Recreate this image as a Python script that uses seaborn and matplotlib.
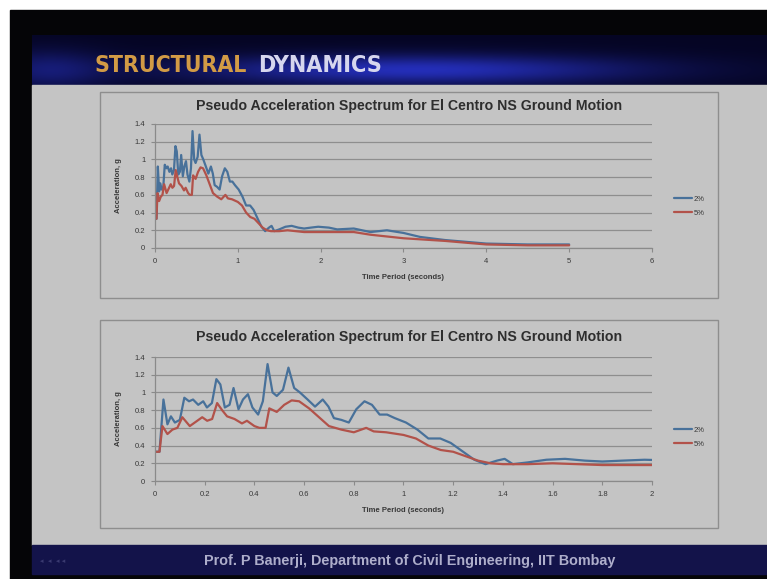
import numpy as np
import pandas as pd
import matplotlib
matplotlib.use("Agg")
import matplotlib.pyplot as plt
from matplotlib import font_manager
from matplotlib.patches import Rectangle
from matplotlib.ticker import FuncFormatter
import seaborn as sns

# pseudo acceleration (g) vs time period (s)
period_2pct = [0.00, 0.018, 0.034, 0.050, 0.064, 0.080, 0.100, 0.118, 0.137, 0.153,
               0.174, 0.194, 0.209, 0.229, 0.247, 0.263, 0.281, 0.300, 0.316, 0.336,
               0.354, 0.374, 0.392, 0.415, 0.434, 0.453, 0.473, 0.490, 0.515, 0.537,
               0.560, 0.583, 0.614, 0.644, 0.675, 0.698, 0.720, 0.750, 0.780, 0.810,
               0.843, 0.873, 0.904, 0.934, 0.965, 1.010, 1.056, 1.100, 1.148, 1.190,
               1.240, 1.285, 1.330, 1.376, 1.407, 1.440, 1.500, 1.575, 1.650, 1.730,
               1.800, 1.880, 1.970, 2.100, 2.200, 2.400, 2.600, 2.800, 3.000, 3.200,
               3.500, 4.000, 4.500, 5.000]
acc_2pct = [0.33, 0.33, 0.92, 0.64, 0.73, 0.66, 0.69, 0.94, 0.90, 0.92,
            0.86, 0.90, 0.83, 0.88, 1.15, 1.09, 0.83, 0.86, 1.05, 0.81,
            0.92, 0.98, 0.83, 0.75, 0.90, 1.32, 1.00, 0.96, 1.03, 1.28,
            1.05, 1.00, 0.92, 0.84, 0.92, 0.84, 0.71, 0.69, 0.66, 0.81,
            0.90, 0.86, 0.75, 0.75, 0.71, 0.66, 0.58, 0.48, 0.48, 0.43,
            0.33, 0.24, 0.19, 0.23, 0.25, 0.19, 0.21, 0.24, 0.25, 0.23,
            0.22, 0.23, 0.24, 0.23, 0.21, 0.22, 0.18, 0.20, 0.17, 0.125,
            0.09, 0.05, 0.04, 0.04]

period_5pct = [0.00, 0.018, 0.030, 0.050, 0.070, 0.090, 0.110, 0.140, 0.170, 0.190,
               0.210, 0.230, 0.250, 0.270, 0.290, 0.320, 0.350, 0.370, 0.400, 0.420,
               0.445, 0.460, 0.490, 0.520, 0.550, 0.580, 0.620, 0.660, 0.700, 0.750,
               0.800, 0.850, 0.880, 0.930, 1.000, 1.050, 1.100, 1.150, 1.200, 1.250,
               1.300, 1.350, 1.400, 1.500, 1.600, 1.700, 1.800, 2.000, 2.200, 2.400,
               2.600, 2.800, 3.000, 3.500, 4.000, 4.500, 5.000]
acc_5pct = [0.33, 0.33, 0.62, 0.53, 0.58, 0.60, 0.72, 0.62, 0.68, 0.72,
            0.68, 0.70, 0.88, 0.80, 0.73, 0.70, 0.65, 0.68, 0.62, 0.60,
            0.60, 0.82, 0.78, 0.86, 0.91, 0.90, 0.82, 0.72, 0.62, 0.58,
            0.55, 0.60, 0.56, 0.55, 0.52, 0.48, 0.40, 0.35, 0.33, 0.28,
            0.23, 0.20, 0.19, 0.19, 0.20, 0.19, 0.18, 0.18, 0.18, 0.18,
            0.15, 0.13, 0.11, 0.08, 0.04, 0.03, 0.03]

series_labels = ["2%", "5%"]
series_colors = ["#48719a", "#b2524a"]
y_ticks = [0, 0.2, 0.4, 0.6, 0.8, 1.0, 1.2, 1.4]
x_ticks_full = [0, 1, 2, 3, 4, 5, 6]
x_ticks_zoom = [0, 0.2, 0.4, 0.6, 0.8, 1.0, 1.2, 1.4, 1.6, 1.8, 2.0]

chart_title = "Pseudo Acceleration Spectrum for El Centro NS Ground Motion"
x_label = "Time Period (seconds)"
y_label = "Acceleration, g"
header_words = ["STRUCTURAL", "DYNAMICS"]
footer_text = "Prof. P Banerji, Department of Civil Engineering, IIT Bombay"

W, H = 767, 579
SLIDE = "#c4c4c4"
TEXT = "#383838"
AXIS = "#8a8a8a"


def fig_box(x0, y0, x1, y1):
    # pixel box with top-left origin -> figure fraction rect
    return [x0 / W, 1 - y1 / H, (x1 - x0) / W, (y1 - y0) / H]


def pick_condensed_bold():
    for f in font_manager.fontManager.ttflist:
        fname = f.fname.lower()
        narrow = (f.stretch in ("condensed", "semi-condensed", "extra-condensed", "ultra-condensed")
                  or "narrow" in fname or "condensed" in fname)
        w = f.weight
        if isinstance(w, str):
            w = font_manager.weight_dict.get(w, 400)
        if narrow and w >= 700:
            return font_manager.FontProperties(fname=f.fname)
    # no narrow face installed: Roboto heavy is the slimmest bold we have
    return font_manager.FontProperties(family=["Roboto", "DejaVu Sans"], weight="black")


df = pd.concat([
    pd.DataFrame({"period": period_2pct, "acc": acc_2pct, "damping": series_labels[0]}),
    pd.DataFrame({"period": period_5pct, "acc": acc_5pct, "damping": series_labels[1]}),
], ignore_index=True)

sns.set_theme(style="white")
plt.rcParams["font.family"] = ["Liberation Sans", "DejaVu Sans"]

fig = plt.figure(figsize=(W / 100, H / 100), dpi=100)
fig.patch.set_facecolor("white")


def fit_width(t, target_w):
    r = fig.canvas.get_renderer()
    w = t.get_window_extent(renderer=r).width
    t.set_fontsize(t.get_fontsize() * target_w / w)


# slide background, drawn in pixel coordinates
bg = fig.add_axes([0, 0, 1, 1], zorder=-5)
bg.set_xlim(0, W)
bg.set_ylim(H, 0)
bg.axis("off")
bg.add_patch(Rectangle((10, 10), W - 10, H - 10, color="#050507"))

# header band with a blue glow
gx, gy = np.meshgrid(np.linspace(0, 1, 400), np.linspace(0, 1, 60))
glow = np.exp(-((gx - 0.52) / 0.3) ** 2) * np.exp(-((gy - 0.7) / 0.3) ** 2)
glow += 0.5 * np.exp(-((gx - 0.02) / 0.08) ** 2) * np.exp(-((gy - 0.7) / 0.4) ** 2)
glow = np.clip(glow, 0, 1)[..., None]
base = np.array([0.02, 0.02, 0.14])
bright = np.array([0.14, 0.18, 0.72])
bg.imshow(base + glow * (bright - base), extent=(32, W, 85, 35), aspect="auto", zorder=1)

bg.add_patch(Rectangle((32, 85), W - 32, 460, color=SLIDE, zorder=2))
bg.add_patch(Rectangle((32, 545), W - 32, 29, color="#13134a", zorder=2))
bg.add_patch(Rectangle((100, 92), 618, 206, fill=False, edgecolor="#8e8e8e", lw=1, zorder=3))
bg.add_patch(Rectangle((100, 320), 618, 208, fill=False, edgecolor="#8e8e8e", lw=1, zorder=3))

cond = pick_condensed_bold()
t1 = bg.text(95, 66, header_words[0], fontproperties=cond, fontsize=20, color="#d29b45",
             ha="left", va="center", zorder=4)
fit_width(t1, 152)
t2 = bg.text(258, 66, header_words[1], fontproperties=cond, fontsize=20, color="#d6d6ee",
             ha="left", va="center", zorder=4)
fit_width(t2, 124)

ft = bg.text(410, 561, footer_text, fontsize=9, fontweight="bold", color="#aeaecb",
             ha="center", va="center", zorder=4)
fit_width(ft, 414)
bg.text(40, 561, "\u25c2  \u25c2  \u25c2 \u25c2", fontsize=5, color="#3a3a70",
        family=["DejaVu Sans"], ha="left", va="center", zorder=4)

for ty in (106, 337):
    tt = bg.text(409, ty, chart_title, fontsize=8.5, fontweight="bold", color="#2e2e2e",
                 ha="center", va="center", zorder=4)
    fit_width(tt, 426)

palette = dict(zip(series_labels, series_colors))
fmt = FuncFormatter(lambda v, p: f"{v:g}")


def draw_chart(box, xmax, xticks, legend_y):
    ax = fig.add_axes(fig_box(*box))
    sns.lineplot(data=df, x="period", y="acc", hue="damping", palette=palette,
                 estimator=None, sort=False, linewidth=1.6, legend=False, ax=ax)
    ax.set_xlim(0, xmax)
    ax.set_ylim(0, 1.4)
    ax.set_facecolor("none")
    ax.set_xticks(xticks)
    ax.set_yticks(y_ticks)
    ax.xaxis.set_major_formatter(fmt)
    ax.yaxis.set_major_formatter(fmt)
    ax.grid(axis="y", color="#8e8e8e", lw=0.9)
    ax.grid(axis="x", visible=False)
    ax.set_axisbelow(True)
    for s in ("top", "right"):
        ax.spines[s].set_visible(False)
    for s in ("left", "bottom"):
        ax.spines[s].set_color(AXIS)
        ax.spines[s].set_linewidth(0.9)
    ax.tick_params(axis="both", labelsize=5.5, color=AXIS, labelcolor=TEXT,
                   length=3, width=0.8, direction="out", pad=4, left=True, bottom=True)

    ax.set_xlabel(x_label, fontsize=5.5, fontweight="bold", color=TEXT)
    ax.set_ylabel(y_label, fontsize=5.5, fontweight="bold", color=TEXT)
    h = box[3] - box[1]
    ax.xaxis.set_label_coords(0.5, -(26 / h))
    ax.yaxis.set_label_coords(-33 / (box[2] - box[0]), 0.5)

    ax.legend(ax.get_lines()[:2], series_labels, loc="center left",
              bbox_to_anchor=(670 / W, 1 - legend_y / H), bbox_transform=fig.transFigure,
              frameon=False, fontsize=5.5, handlelength=2.4, handletextpad=0.2,
              labelspacing=0.9, borderpad=0, labelcolor=TEXT)
    return ax


draw_chart((155, 124, 652, 248), 6, x_ticks_full, 206)
draw_chart((155, 357, 652, 481), 2, x_ticks_zoom, 437)

fig.savefig("out.png", dpi=100, facecolor=fig.get_facecolor())
